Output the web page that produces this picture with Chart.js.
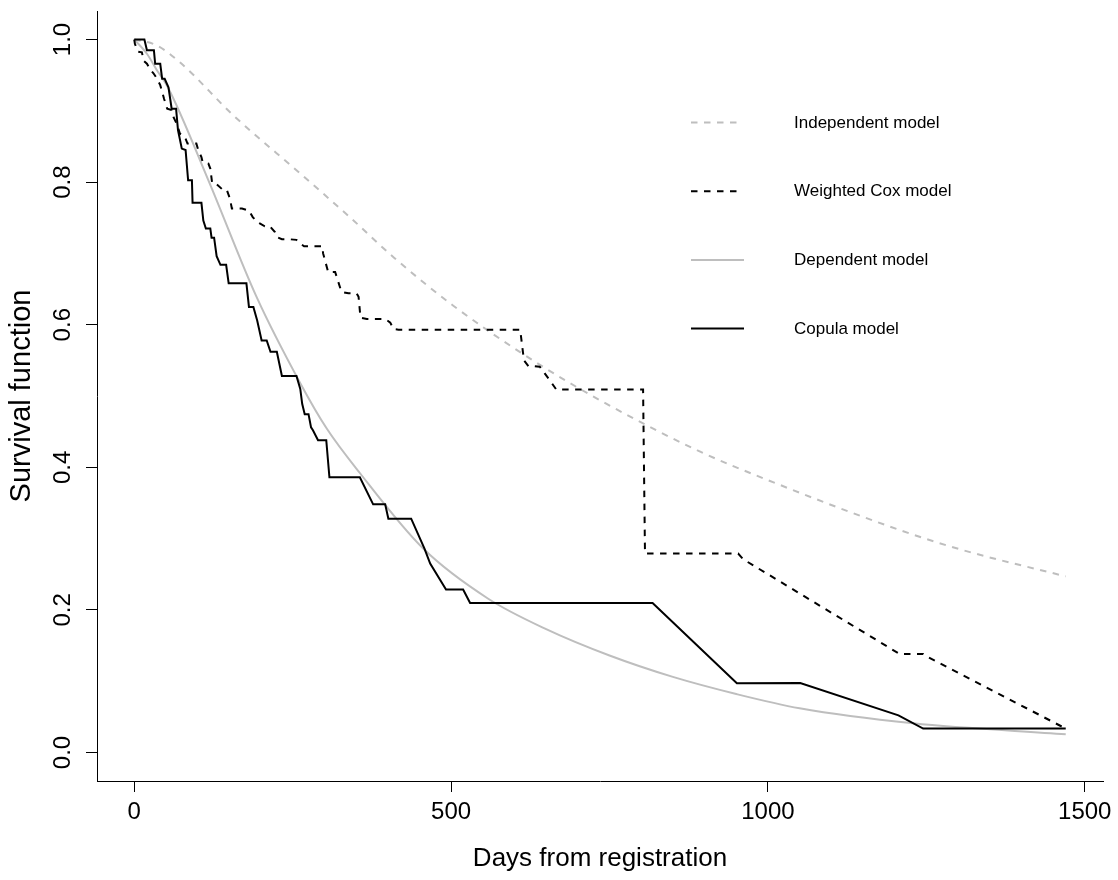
<!DOCTYPE html>
<html>
<head>
<meta charset="utf-8">
<script src="https://cdn.jsdelivr.net/npm/chart.js@4.4.1/dist/chart.umd.min.js"></script>
<style>
  html, body { margin: 0; padding: 0; background: #ffffff; }
  #wrap { width: 1118px; height: 880px; }
</style>
</head>
<body>
<div id="wrap"><canvas id="c" width="1118" height="880"></canvas></div>
<script>
// ---------- data ----------
const seriesNames = ['Independent model', 'Weighted Cox model', 'Dependent model', 'Copula model'];

const xTicks = [0, 500, 1000, 1500];
const yTicks = [0.0, 0.2, 0.4, 0.6, 0.8, 1.0];
const yTickLabels = ['0.0', '0.2', '0.4', '0.6', '0.8', '1.0'];
const xTitle = 'Days from registration';
const yTitle = 'Survival function';

const indepDays = [0, 35, 72, 156, 262, 340, 410, 503, 629, 735, 888, 1000, 1208, 1307, 1470];
const indepSurv = [1.0, 0.992, 0.968, 0.894, 0.812, 0.751, 0.694, 0.627, 0.550, 0.494, 0.424, 0.382, 0.312, 0.284, 0.247];

const coxDays = [0, 1, 6, 12, 15, 20, 26, 30, 36, 41, 47, 52, 59, 62, 68, 72, 80, 84, 98, 101, 106, 108, 117, 120, 123, 130, 140, 146, 151, 154, 170, 181, 187, 194, 198, 206, 214, 222, 225, 233, 243, 256, 262, 268, 297, 298, 306, 317, 327, 338, 351, 354, 357, 367, 396, 404, 409, 417, 609, 615, 622, 630, 640, 659, 666, 803, 806, 953, 961, 1208, 1245, 1248, 1470];
const coxSurv = [1.0, 0.994, 0.983, 0.982, 0.970, 0.966, 0.957, 0.953, 0.945, 0.936, 0.917, 0.903, 0.901, 0.891, 0.880, 0.868, 0.863, 0.854, 0.854, 0.845, 0.835, 0.828, 0.826, 0.819, 0.798, 0.797, 0.789, 0.789, 0.777, 0.763, 0.763, 0.760, 0.751, 0.744, 0.742, 0.738, 0.738, 0.730, 0.723, 0.720, 0.720, 0.719, 0.714, 0.710, 0.710, 0.700, 0.674, 0.674, 0.646, 0.644, 0.644, 0.639, 0.610, 0.608, 0.608, 0.603, 0.594, 0.593, 0.593, 0.550, 0.542, 0.542, 0.541, 0.518, 0.509, 0.509, 0.279, 0.279, 0.271, 0.138, 0.138, 0.136, 0.0335];

const depDays = [0, 20, 35, 53, 117, 193, 262, 304, 356, 456, 558, 650, 750, 850, 950, 1050, 1229, 1470];
const depSurv = [1.0, 0.980, 0.958, 0.933, 0.8025, 0.639, 0.518, 0.454, 0.392, 0.286, 0.216, 0.173, 0.136, 0.106, 0.082, 0.062, 0.041, 0.0256];

const copulaDays = [0, 16, 20, 31, 33, 41, 44, 48, 54, 59, 66, 69, 75, 81, 85, 91, 92, 106, 109, 113, 120, 122, 126, 130, 136, 145, 149, 177, 181, 188, 194, 201, 209, 215, 225, 233, 256, 262, 265, 269, 275, 279, 282, 290, 303, 308, 356, 377, 396, 401, 437, 458, 467, 492, 519, 530, 818, 951, 1051, 1206, 1245, 1470];
const copulaSurv = [1.0, 1.0, 0.985, 0.985, 0.966, 0.966, 0.945, 0.945, 0.933, 0.903, 0.903, 0.873, 0.847, 0.845, 0.8025, 0.8025, 0.771, 0.771, 0.746, 0.735, 0.735, 0.722, 0.722, 0.696, 0.684, 0.684, 0.658, 0.658, 0.625, 0.625, 0.606, 0.578, 0.578, 0.562, 0.562, 0.528, 0.528, 0.510, 0.489, 0.4745, 0.4745, 0.456, 0.452, 0.438, 0.438, 0.386, 0.386, 0.348, 0.348, 0.328, 0.328, 0.286, 0.265, 0.2285, 0.2285, 0.2097, 0.2097, 0.097, 0.0975, 0.052, 0.0335, 0.0335];

// ---------- styles ----------
const GRAY = '#bebebe';
const BLACK = '#000000';
const DASH = [6.5, 6.5];
const FONT = '"Liberation Sans", Arial, Helvetica, sans-serif';

function pts(xs, ys) { return xs.map((x, i) => ({ x: x, y: ys[i] })); }

const legendItems = [
  { label: seriesNames[0], color: GRAY, dash: DASH, len: 46 },
  { label: seriesNames[1], color: BLACK, dash: DASH, len: 46 },
  { label: seriesNames[2], color: GRAY, dash: [], len: 53 },
  { label: seriesNames[3], color: BLACK, dash: [], len: 53 }
];

const customDraw = {
  id: 'customDraw',
  afterDraw(chart) {
    const ctx = chart.ctx;
    const ys = chart.scales.y;
    // rotated y tick labels (as in R)
    ctx.save();
    ctx.fillStyle = '#000';
    ctx.font = '24px ' + FONT;
    ctx.textAlign = 'center';
    ctx.textBaseline = 'middle';
    yTicks.forEach((v, i) => {
      const py = ys.getPixelForValue(v);
      ctx.save();
      ctx.translate(63, py);
      ctx.rotate(-Math.PI / 2);
      ctx.fillText(yTickLabels[i], 0, 0);
      ctx.restore();
    });
    ctx.restore();

    // legend
    ctx.save();
    const x0 = 691, xt = 794, yStart = 122.5, step = 68.7;
    legendItems.forEach((it, i) => {
      const y = yStart + i * step;
      ctx.beginPath();
      ctx.setLineDash(it.dash);
      ctx.strokeStyle = it.color;
      ctx.lineWidth = 2;
      ctx.moveTo(x0, y);
      ctx.lineTo(x0 + it.len, y);
      ctx.stroke();
      ctx.setLineDash([]);
      ctx.fillStyle = '#000';
      ctx.font = '17px ' + FONT;
      ctx.textAlign = 'left';
      ctx.textBaseline = 'middle';
      ctx.fillText(it.label, xt, y + 0.5);
    });
    ctx.restore();
  }
};

new Chart(document.getElementById('c'), {
  type: 'scatter',
  data: {
    datasets: [
      { label: seriesNames[3], data: pts(copulaDays, copulaSurv), showLine: true, borderColor: BLACK, borderWidth: 2, pointRadius: 0, tension: 0, order: 1 },
      { label: seriesNames[1], data: pts(coxDays, coxSurv), showLine: true, borderColor: BLACK, borderWidth: 2, borderDash: DASH, pointRadius: 0, tension: 0, order: 2 },
      { label: seriesNames[2], data: pts(depDays, depSurv), showLine: true, borderColor: GRAY, borderWidth: 2, pointRadius: 0, cubicInterpolationMode: 'monotone', order: 3 },
      { label: seriesNames[0], data: pts(indepDays, indepSurv), showLine: true, borderColor: GRAY, borderWidth: 2, borderDash: DASH, pointRadius: 0, cubicInterpolationMode: 'monotone', order: 4 }
    ]
  },
  options: {
    responsive: false,
    animation: false,
    devicePixelRatio: 1,
    layout: { padding: { left: 0, top: 11, right: 15, bottom: 0 } },
    plugins: { legend: { display: false }, tooltip: { enabled: false }, title: { display: false } },
    scales: {
      x: {
        type: 'linear',
        min: -58.8,
        max: 1528.8,
        afterBuildTicks(scale) { scale.ticks = xTicks.map(v => ({ value: v })); },
        afterFit(scale) { scale.height = 99; },
        grid: { drawOnChartArea: false, drawTicks: true, tickLength: 11, color: BLACK, tickColor: BLACK, lineWidth: 1 },
        border: { display: true, color: BLACK, width: 1 },
        ticks: { color: BLACK, padding: 6, maxRotation: 0, minRotation: 0, font: { family: FONT, size: 24 }, callback: (v) => String(v) },
        title: { display: true, text: xTitle, color: BLACK, font: { family: FONT, size: 26 }, padding: { top: 0, bottom: 6 } }
      },
      y: {
        type: 'linear',
        min: -0.04,
        max: 1.04,
        afterBuildTicks(scale) { scale.ticks = yTicks.map(v => ({ value: v })); },
        afterFit(scale) { scale.width = 97; },
        grid: { drawOnChartArea: false, drawTicks: true, tickLength: 11, color: BLACK, tickColor: BLACK, lineWidth: 1 },
        border: { display: true, color: BLACK, width: 1 },
        ticks: { display: false },
        title: { display: true, text: yTitle, color: BLACK, font: { family: FONT, size: 29 }, padding: { top: 5, bottom: 0 } }
      }
    }
  },
  plugins: [customDraw]
});
</script>
</body>
</html>
